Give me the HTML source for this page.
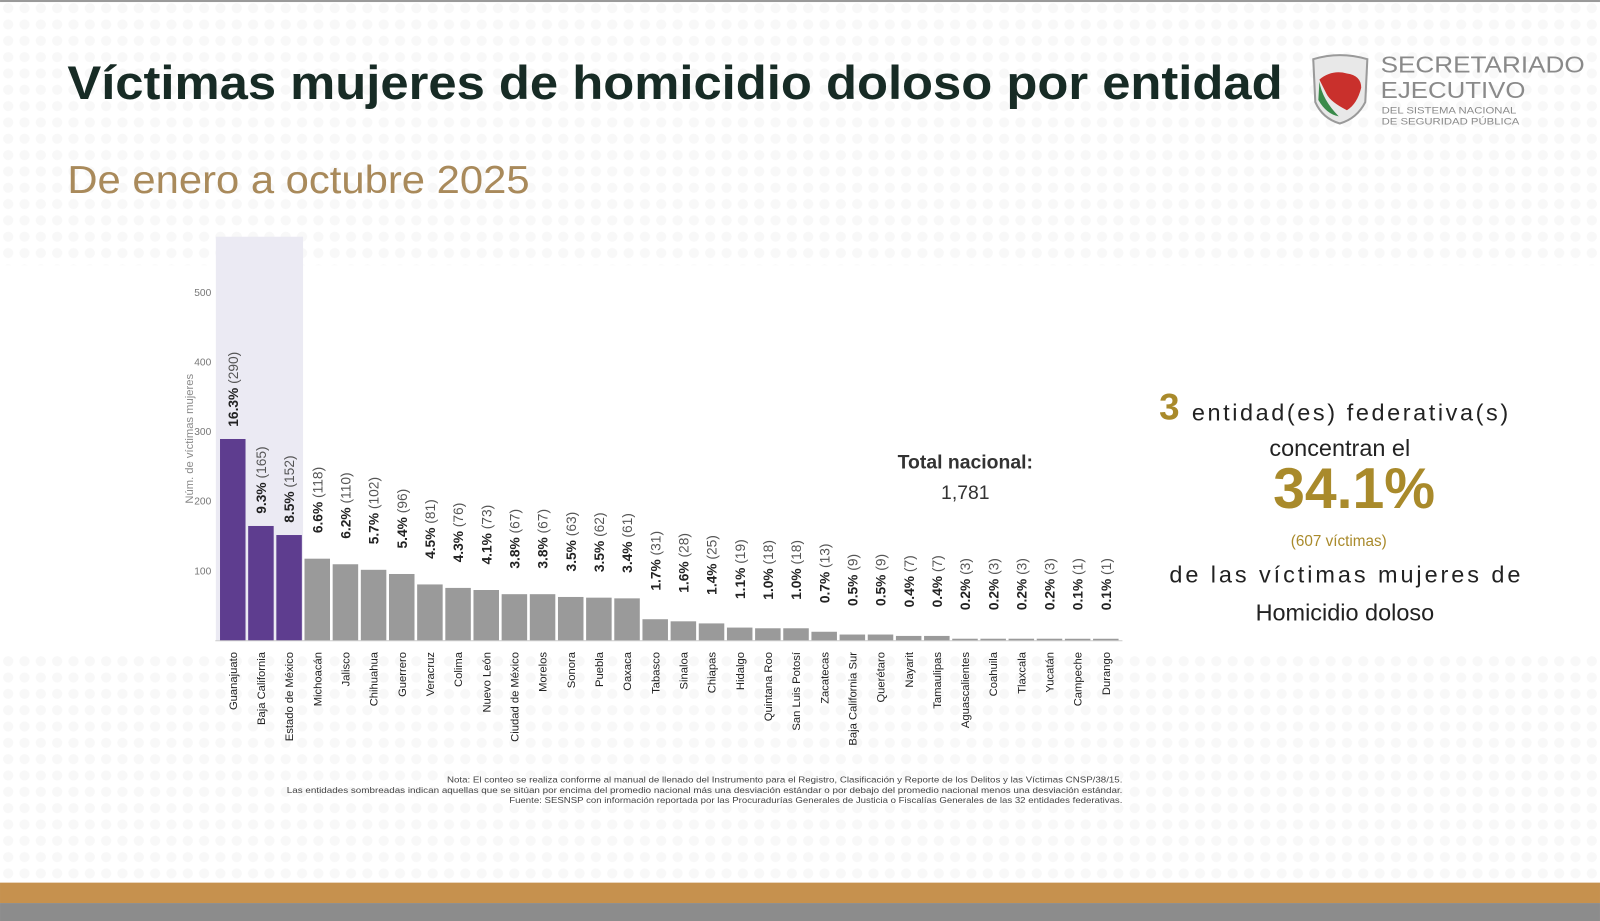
<!DOCTYPE html>
<html><head><meta charset="utf-8"><style>
html,body{margin:0;padding:0;background:#fff;width:1600px;height:921px;overflow:hidden}
svg{display:block}
text{font-family:"Liberation Sans","DejaVu Sans",sans-serif}
</style></head><body>
<svg id="s" width="1600" height="921" viewBox="0 0 1568 902.6" xmlns="http://www.w3.org/2000/svg">
<defs>
<pattern id="dots" width="16" height="16" patternUnits="userSpaceOnUse"><circle cx="8" cy="8" r="5" fill="#f6f6f6"/></pattern>
</defs>
<rect width="1568" height="903" fill="#fff"/>
<rect x="0" y="0" width="1568" height="260" fill="url(#dots)" opacity="0.8"/>
<rect x="0" y="640" width="1568" height="225" fill="url(#dots)" opacity="0.8"/>
<rect x="0" y="0" width="1568" height="2" fill="#9a9a9a"/>
<text x="66" y="97" font-size="46" font-weight="bold" fill="#172b25" textLength="1191" lengthAdjust="spacingAndGlyphs">Víctimas mujeres de homicidio doloso por entidad</text>
<text x="66" y="189" font-size="38" fill="#a98a5b" textLength="453" lengthAdjust="spacingAndGlyphs">De enero a octubre 2025</text>
<!-- logo -->
<path d="M1287 58 Q1313 50 1340 58 L1338 100 Q1330 116 1313 121 Q1296 116 1289 100 Z" fill="#e8e8e8" stroke="#9a9a9a" stroke-width="2"/>
<path d="M1293 78 Q1305 68 1320 72 Q1334 74 1334 86 Q1330 102 1320 108 Q1304 100 1300 92 Z" fill="#c9302c"/>
<path d="M1293 80 Q1296 98 1312 114 Q1300 112 1292 98 Z" fill="#3a8a4a"/>
<text x="1353" y="71" font-family="Liberation Serif,serif" font-size="23" fill="#8a8a8a" textLength="200" lengthAdjust="spacingAndGlyphs">SECRETARIADO</text>
<text x="1353" y="96" font-family="Liberation Serif,serif" font-size="23" fill="#8a8a8a" textLength="142" lengthAdjust="spacingAndGlyphs">EJECUTIVO</text>
<text x="1354" y="111" font-size="9" fill="#8a8a8a" textLength="132" lengthAdjust="spacingAndGlyphs">DEL SISTEMA NACIONAL</text>
<text x="1354" y="122" font-size="9" fill="#8a8a8a" textLength="135" lengthAdjust="spacingAndGlyphs">DE SEGURIDAD PÚBLICA</text>
<!-- highlight -->
<rect x="211.5" y="232" width="85.5" height="396" fill="#ebeaf3"/>
<g id="chart"></g>
<text transform="translate(189,430) rotate(-90)" text-anchor="middle" font-size="11" fill="#8a8a8a">Núm. de víctimas mujeres</text>
<text x="946" y="459" text-anchor="middle" font-size="19" font-weight="bold" fill="#333">Total nacional:</text>
<text x="946" y="489" text-anchor="middle" font-size="19" fill="#333">1,781</text>
<!-- right panel -->
<text x="1136" y="411" font-size="36" font-weight="bold" fill="#a98a2b">3</text>
<text x="1168" y="412" font-size="23" fill="#222" textLength="310" lengthAdjust="spacing">entidad(es)  federativa(s)</text>
<text x="1313" y="447" text-anchor="middle" font-size="23" fill="#222">concentran el</text>
<text x="1327" y="498" text-anchor="middle" font-size="56" font-weight="bold" fill="#a98a2b">34.1%</text>
<text x="1312" y="535" text-anchor="middle" font-size="15" fill="#a98a2b">(607 víctimas)</text>
<text x="1146" y="571" font-size="23" fill="#222" textLength="344" lengthAdjust="spacing">de las  víctimas  mujeres de</text>
<text x="1318" y="608" text-anchor="middle" font-size="23" fill="#222">Homicidio doloso</text>
<!-- notes -->
<g font-size="8.5" fill="#444" text-anchor="end">
<text x="1100" y="767" textLength="662" lengthAdjust="spacingAndGlyphs">Nota: El conteo se realiza conforme al manual de llenado del Instrumento para el Registro, Clasificación y Reporte de los Delitos y las Víctimas CNSP/38/15.</text>
<text x="1100" y="777" textLength="819" lengthAdjust="spacingAndGlyphs">Las entidades sombreadas indican aquellas que se sitúan por encima del promedio nacional más una desviación estándar o por debajo del promedio nacional menos una desviación estándar.</text>
<text x="1100" y="787" textLength="601" lengthAdjust="spacingAndGlyphs">Fuente: SESNSP con información reportada por las Procuradurías Generales de Justicia o Fiscalías Generales de las 32 entidades federativas.</text>
</g>
<rect x="0" y="865" width="1568" height="20" fill="#c6914e"/>
<rect x="0" y="885" width="1568" height="18" fill="#8c8c8c"/>
</svg>
<script>
var d=[["Guanajuato",16.3,290],["Baja California",9.3,165],["Estado de México",8.5,152],["Michoacán",6.6,118],["Jalisco",6.2,110],["Chihuahua",5.7,102],["Guerrero",5.4,96],["Veracruz",4.5,81],["Colima",4.3,76],["Nuevo León",4.1,73],["Ciudad de México",3.8,67],["Morelos",3.8,67],["Sonora",3.5,63],["Puebla",3.5,62],["Oaxaca",3.4,61],["Tabasco",1.7,31],["Sinaloa",1.6,28],["Chiapas",1.4,25],["Hidalgo",1.1,19],["Quintana Roo",1.0,18],["San Luis Potosí",1.0,18],["Zacatecas",0.7,13],["Baja California Sur",0.5,9],["Querétaro",0.5,9],["Nayarit",0.4,7],["Tamaulipas",0.4,7],["Aguascalientes",0.2,3],["Coahuila",0.2,3],["Tlaxcala",0.2,3],["Yucatán",0.2,3],["Campeche",0.1,1],["Durango",0.1,1]];
var h='',base=628,k=0.682;
[100,200,300,400,500].forEach(function(v){h+='<text x="207" y="'+(base-v*k+3)+'" text-anchor="end" font-size="10" fill="#777">'+v+'</text>';});
d.forEach(function(r,i){
var x=215.6+i*27.6,bh=Math.max(r[2]*k,2),top=base-bh,cx=x+12.5;
h+='<rect x="'+x+'" y="'+top+'" width="25" height="'+bh+'" fill="'+(i<3?'#5e3d8f':'#9a9a9a')+'"/>';
var g=i<3?12:(i<15?25:28);
h+='<text transform="translate('+(cx+5)+','+(top-g)+') rotate(-90)" font-size="13.5" fill="#333"><tspan font-weight="bold" fill="#222">'+r[1].toFixed(1)+'%</tspan><tspan fill="#555"> ('+r[2]+')</tspan></text>';
h+='<text transform="translate('+(cx+4)+',639) rotate(-90)" text-anchor="end" font-size="11" fill="#222">'+r[0]+'</text>';
});
h+='<line x1="211" y1="628" x2="1100" y2="628" stroke="#ccc" stroke-width="1"/>';
document.getElementById('chart').innerHTML=h;
</script>
</body></html>
